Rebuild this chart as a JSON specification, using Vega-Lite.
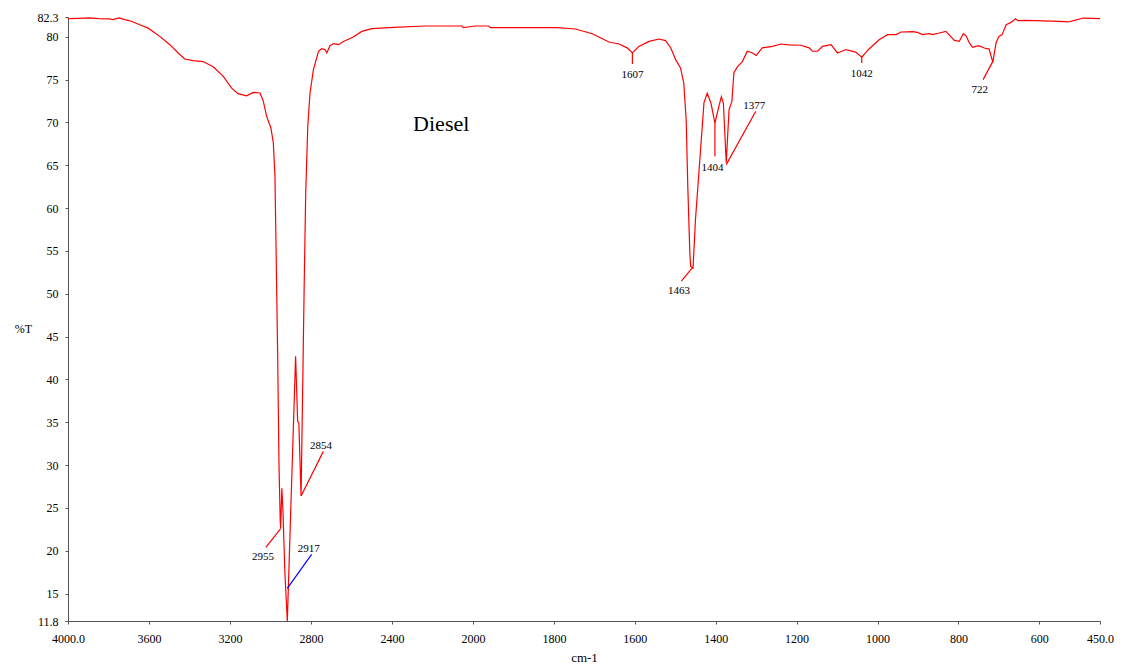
{
  "$schema": "https://vega.github.io/schema/vega-lite/v6.json",
  "autosize": {"type": "none"},
  "width": 1032,
  "height": 604,
  "padding": {"left": 68, "top": 17, "right": 27, "bottom": 45},
  "background": "white",
  "config": {
    "view": {"stroke": null},
    "font": "Liberation Serif",
    "axis": {"grid": false, "labelFont": "Liberation Serif", "titleFont": "Liberation Serif", "labelColor": "#000", "titleColor": "#000", "domainColor": "#555", "tickColor": "#555", "labelFontSize": 12, "titleFontSize": 13, "titleFontWeight": "normal", "tickSize": 3}
  },
  "datasets": {
    "spectrum": [
      {"wn": 4000, "T": 82.1}, {"wn": 3950, "T": 82.15}, {"wn": 3893, "T": 82.2}, {"wn": 3850, "T": 82.1}, {"wn": 3794, "T": 82.07}, {"wn": 3778, "T": 82.0}, {"wn": 3748, "T": 82.2}, {"wn": 3720, "T": 82.0}, {"wn": 3687, "T": 81.8}, {"wn": 3646, "T": 81.4}, {"wn": 3604, "T": 81.0}, {"wn": 3547, "T": 80.04}, {"wn": 3497, "T": 79.07}, {"wn": 3456, "T": 78.1}, {"wn": 3423, "T": 77.4}, {"wn": 3382, "T": 77.2}, {"wn": 3333, "T": 77.1}, {"wn": 3283, "T": 76.5}, {"wn": 3234, "T": 75.4}, {"wn": 3192, "T": 74.0}, {"wn": 3160, "T": 73.35}, {"wn": 3118, "T": 73.1}, {"wn": 3085, "T": 73.5}, {"wn": 3052, "T": 73.43}, {"wn": 3036, "T": 72.5}, {"wn": 3019, "T": 70.7}, {"wn": 2998, "T": 69.35}, {"wn": 2986, "T": 67.6}, {"wn": 2978, "T": 63.7}, {"wn": 2973, "T": 56.0}, {"wn": 2968, "T": 48.15}, {"wn": 2965, "T": 43.5}, {"wn": 2958, "T": 30}, {"wn": 2952, "T": 23.5}, {"wn": 2950, "T": 22.6}, {"wn": 2944, "T": 27.3}, {"wn": 2939, "T": 25}, {"wn": 2929, "T": 17.5}, {"wn": 2917, "T": 11.8}, {"wn": 2897, "T": 27}, {"wn": 2876, "T": 42.7}, {"wn": 2866, "T": 35.1}, {"wn": 2860, "T": 34.9}, {"wn": 2849, "T": 26.4}, {"wn": 2838, "T": 44}, {"wn": 2833, "T": 52.0}, {"wn": 2826, "T": 61.8}, {"wn": 2816, "T": 69.5}, {"wn": 2805, "T": 73.4}, {"wn": 2788, "T": 76.15}, {"wn": 2763, "T": 78.3}, {"wn": 2747, "T": 78.6}, {"wn": 2731, "T": 78.5}, {"wn": 2722, "T": 78.1}, {"wn": 2706, "T": 78.95}, {"wn": 2689, "T": 79.2}, {"wn": 2664, "T": 79.07}, {"wn": 2640, "T": 79.45}, {"wn": 2591, "T": 79.97}, {"wn": 2549, "T": 80.62}, {"wn": 2500, "T": 80.94}, {"wn": 2393, "T": 81.09}, {"wn": 2236, "T": 81.25}, {"wn": 2055, "T": 81.25}, {"wn": 2047, "T": 81.05},
      {"wn": 1994, "T": 81.25}, {"wn": 1961, "T": 81.25}, {"wn": 1957, "T": 81.05}, {"wn": 1792, "T": 81.05}, {"wn": 1747, "T": 80.9}, {"wn": 1705, "T": 80.35}, {"wn": 1664, "T": 79.38}, {"wn": 1639, "T": 79.15}, {"wn": 1619, "T": 78.7}, {"wn": 1606, "T": 78.1}, {"wn": 1590, "T": 78.87}, {"wn": 1565, "T": 79.45}, {"wn": 1540, "T": 79.73}, {"wn": 1524, "T": 79.55}, {"wn": 1511, "T": 78.68}, {"wn": 1499, "T": 77.32}, {"wn": 1487, "T": 76.35}, {"wn": 1479, "T": 74.6}, {"wn": 1473, "T": 70.3}, {"wn": 1469, "T": 62.5}, {"wn": 1464, "T": 54.8}, {"wn": 1462, "T": 53.2}, {"wn": 1456, "T": 53.0}, {"wn": 1450, "T": 58.7}, {"wn": 1441, "T": 64.5}, {"wn": 1429, "T": 72.3}, {"wn": 1421, "T": 73.4}, {"wn": 1412, "T": 72.3}, {"wn": 1402, "T": 69.9}, {"wn": 1392, "T": 71.9}, {"wn": 1386, "T": 73.0}, {"wn": 1381, "T": 72.2}, {"wn": 1374, "T": 65.3}, {"wn": 1367, "T": 71.5}, {"wn": 1360, "T": 72.45}, {"wn": 1355, "T": 75.8}, {"wn": 1346, "T": 76.5}, {"wn": 1334, "T": 77.1}, {"wn": 1322, "T": 78.3}, {"wn": 1309, "T": 78.1}, {"wn": 1300, "T": 77.8}, {"wn": 1285, "T": 78.7}, {"wn": 1260, "T": 78.87}, {"wn": 1239, "T": 79.15}, {"wn": 1219, "T": 79.05}, {"wn": 1190, "T": 79.0}, {"wn": 1169, "T": 78.7}, {"wn": 1161, "T": 78.3}, {"wn": 1148, "T": 78.3}, {"wn": 1136, "T": 78.87}, {"wn": 1115, "T": 79.07}, {"wn": 1099, "T": 78.1}, {"wn": 1078, "T": 78.5}, {"wn": 1054, "T": 78.2}, {"wn": 1039, "T": 77.6}, {"wn": 1021, "T": 78.57}, {"wn": 996, "T": 79.65}, {"wn": 975, "T": 80.24}, {"wn": 954, "T": 80.24}, {"wn": 942, "T": 80.55}, {"wn": 913, "T": 80.6}, {"wn": 901, "T": 80.5}, {"wn": 889, "T": 80.24}, {"wn": 872, "T": 80.35}, {"wn": 864, "T": 80.24}, {"wn": 847, "T": 80.43}, {"wn": 831, "T": 80.62}, {"wn": 810, "T": 79.57}, {"wn": 798, "T": 79.45}, {"wn": 788, "T": 80.35}, {"wn": 781, "T": 80.1}, {"wn": 773, "T": 79.27}, {"wn": 765, "T": 78.75}, {"wn": 750, "T": 78.95}, {"wn": 736, "T": 78.68}, {"wn": 724, "T": 78.55}, {"wn": 715, "T": 77.0}, {"wn": 707, "T": 79.27}, {"wn": 700, "T": 80.04}, {"wn": 692, "T": 80.24}, {"wn": 682, "T": 81.4}, {"wn": 670, "T": 81.67}, {"wn": 659, "T": 82.1}, {"wn": 653, "T": 81.87}, {"wn": 633, "T": 81.9}, {"wn": 550, "T": 81.79}, {"wn": 529, "T": 81.72}, {"wn": 513, "T": 81.9}, {"wn": 492, "T": 82.18}, {"wn": 450, "T": 82.1}
    ],
    "markers": [
      {"peak": "2955", "wn": 3023, "T": 20.4, "wn2": 2950, "T2": 22.58},
      {"peak": "2917", "wn": 2917, "T": 15.61, "wn2": 2797, "T2": 19.58},
      {"peak": "2854", "wn": 2849, "T": 26.38, "wn2": 2739, "T2": 31.6},
      {"peak": "1607", "wn": 1606, "T": 78.1, "wn2": 1606, "T2": 76.82},
      {"peak": "1463", "wn": 1458, "T": 53.02, "wn2": 1485, "T2": 51.46},
      {"peak": "1404", "wn": 1402, "T": 69.94, "wn2": 1402, "T2": 66.04},
      {"peak": "1377", "wn": 1374, "T": 65.07, "wn2": 1301, "T2": 71.29},
      {"peak": "1042", "wn": 1039, "T": 77.7, "wn2": 1039, "T2": 76.93},
      {"peak": "722", "wn": 715, "T": 77.12, "wn2": 739, "T2": 74.99}
    ],
    "labels": [
      {"text": "2955", "wn": 3037, "T": 19.23},
      {"text": "2917", "wn": 2811, "T": 20.17},
      {"text": "2854", "wn": 2751, "T": 32.2},
      {"text": "1607", "wn": 1606, "T": 75.57},
      {"text": "1463", "wn": 1491, "T": 50.3},
      {"text": "1404", "wn": 1408, "T": 64.69},
      {"text": "1377", "wn": 1305, "T": 71.95},
      {"text": "1042", "wn": 1039, "T": 75.65},
      {"text": "722", "wn": 747, "T": 73.82}
    ],
    "title": [{"text": "Diesel", "wn": 2157, "T": 69.85}]
  },
  "encoding": {
    "x": {
      "field": "wn", "type": "quantitative",
      "scale": {"type": "linear", "domain": [4000, 2000, 450], "range": [0, 405, 1032], "nice": false, "zero": false},
      "axis": {
        "title": "cm-1", "titleY": 40, "titleBaseline": "alphabetic",
        "values": [4000, 3600, 3200, 2800, 2400, 2000, 1800, 1600, 1400, 1200, 1000, 800, 600, 450],
        "labelExpr": "datum.value == 4000 || datum.value == 450 ? format(datum.value, '.1f') : format(datum.value, 'd')",
        "labelPadding": 9, "labelFlush": false, "labelOverlap": false
      }
    },
    "y": {
      "field": "T", "type": "quantitative",
      "scale": {"domain": [11.8, 82.3], "nice": false, "zero": false},
      "axis": {
        "title": "%T", "titleAngle": 0, "titleX": -45, "titleY": 311, "titleAlign": "center", "titleBaseline": "middle", "titleFontSize": 12,
        "values": [11.8, 15, 20, 25, 30, 35, 40, 45, 50, 55, 60, 65, 70, 75, 80, 82.3],
        "labelExpr": "datum.value == 11.8 || datum.value == 82.3 ? format(datum.value, '.1f') : format(datum.value, 'd')",
        "labelPadding": 7, "labelFlush": false, "labelOverlap": false
      }
    }
  },
  "layer": [
    {
      "data": {"name": "spectrum"},
      "mark": {"type": "line", "color": "#ff0000", "strokeWidth": 1.2, "interpolate": "linear"}
    },
    {
      "data": {"name": "markers"},
      "mark": {"type": "rule", "strokeWidth": 1.2},
      "encoding": {
        "x2": {"field": "wn2"},
        "y2": {"field": "T2"},
        "color": {"field": "peak", "type": "nominal", "legend": null,
          "scale": {"domain": ["2955", "2917", "2854", "1607", "1463", "1404", "1377", "1042", "722"], "range": ["#ff0000", "#0000ff", "#ff0000", "#ff0000", "#ff0000", "#ff0000", "#ff0000", "#ff0000", "#ff0000"]}}
      }
    },
    {
      "data": {"name": "labels"},
      "mark": {"type": "text", "font": "Liberation Serif", "fontSize": 11, "color": "#000", "align": "center", "baseline": "middle"},
      "encoding": {"text": {"field": "text"}}
    },
    {
      "data": {"name": "title"},
      "mark": {"type": "text", "font": "Liberation Serif", "fontSize": 22, "color": "#000", "align": "center", "baseline": "middle"},
      "encoding": {"text": {"field": "text"}}
    }
  ]
}
